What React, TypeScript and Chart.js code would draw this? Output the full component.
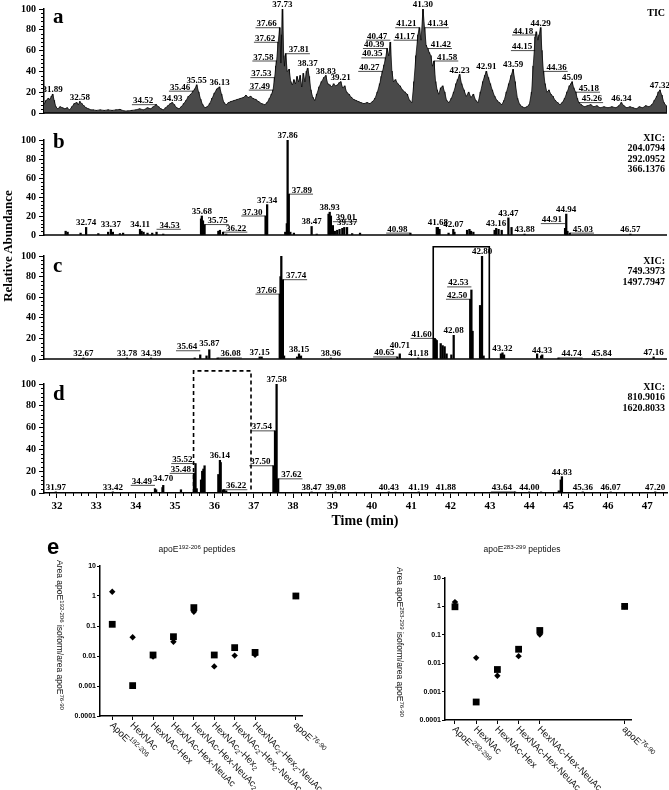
import React, { useEffect, useRef } from 'react';
import { Chart, registerables } from 'chart.js';
Chart.register(...registerables);

const SERIF = '"Liberation Serif", "Times New Roman", serif';
const SANS = '"Liberation Sans", Arial, sans-serif';

type Pt = [number, number];
type Lab = [number, string, number?];

// ---------- chromatogram data (time min, relative abundance %) ----------
const TIME_TICKS = [32, 33, 34, 35, 36, 37, 38, 39, 40, 41, 42, 43, 44, 45, 46, 47];
const TIME_RANGE = [31.67, 47.5];
const ABUND_RANGE = [0, 100];

const TIC: Pt[] = [
  [31.67, 8], [31.72, 12], [31.78, 14], [31.82, 13], [31.86, 16], [31.89, 18], [31.93, 12], [31.97, 6],
  [32.02, 4], [32.08, 6], [32.14, 5], [32.2, 4], [32.26, 5], [32.32, 3], [32.38, 6], [32.44, 9], [32.5, 10],
  [32.54, 8], [32.58, 11], [32.63, 9], [32.68, 7], [32.74, 5], [32.8, 4], [32.86, 3], [32.92, 3], [33.0, 2.5],
  [33.1, 3], [33.2, 2.5], [33.3, 3], [33.4, 2.5], [33.5, 3], [33.6, 3.5], [33.7, 2], [33.8, 2], [33.9, 2.5],
  [34.0, 3], [34.1, 4], [34.2, 3], [34.3, 5], [34.38, 4], [34.45, 6], [34.52, 8], [34.58, 6], [34.64, 4],
  [34.7, 3], [34.76, 5], [34.82, 7], [34.88, 9], [34.93, 10], [34.98, 8], [35.04, 5], [35.1, 4], [35.16, 6],
  [35.22, 9], [35.28, 12], [35.34, 16], [35.4, 18], [35.46, 21], [35.5, 23], [35.55, 27], [35.6, 20],
  [35.65, 13], [35.7, 8], [35.76, 5], [35.82, 6], [35.88, 9], [35.94, 14], [36.0, 19], [36.06, 23],
  [36.1, 24], [36.13, 25], [36.18, 18], [36.24, 10], [36.3, 8], [36.36, 10], [36.42, 11], [36.5, 12],
  [36.58, 13], [36.66, 14], [36.74, 15], [36.8, 17], [36.86, 15], [36.92, 16], [36.98, 14], [37.05, 13],
  [37.12, 11], [37.2, 9], [37.28, 8], [37.34, 10], [37.4, 14], [37.45, 18], [37.49, 22], [37.53, 34],
  [37.56, 45], [37.58, 50], [37.62, 68], [37.66, 82], [37.69, 48], [37.71, 75], [37.73, 100], [37.76, 55],
  [37.78, 45], [37.81, 57], [37.85, 40], [37.9, 42], [37.94, 30], [37.98, 27], [38.02, 32], [38.06, 28],
  [38.1, 35], [38.14, 30], [38.18, 36], [38.22, 25], [38.26, 38], [38.3, 30], [38.34, 40], [38.37, 43],
  [38.41, 35], [38.45, 22], [38.5, 15], [38.55, 12], [38.6, 18], [38.66, 25], [38.72, 30], [38.78, 34],
  [38.83, 36], [38.88, 28], [38.93, 27], [38.98, 25], [39.03, 28], [39.08, 26], [39.13, 27], [39.17, 29],
  [39.21, 30], [39.26, 24], [39.31, 26], [39.36, 20], [39.42, 18], [39.48, 15], [39.54, 13], [39.6, 12],
  [39.66, 11], [39.72, 10], [39.8, 9], [39.88, 10], [39.95, 9], [40.02, 11], [40.08, 14], [40.14, 20],
  [40.2, 28], [40.24, 35], [40.27, 40], [40.31, 46], [40.35, 53], [40.39, 62], [40.43, 55], [40.47, 68],
  [40.51, 40], [40.55, 30], [40.6, 32], [40.66, 28], [40.72, 26], [40.78, 22], [40.84, 20], [40.9, 18],
  [40.96, 12], [41.02, 10], [41.07, 30], [41.12, 55], [41.17, 75], [41.21, 82], [41.25, 70], [41.3, 100],
  [41.34, 82], [41.38, 65], [41.42, 62], [41.46, 58], [41.5, 55], [41.54, 45], [41.58, 50], [41.62, 30],
  [41.66, 22], [41.7, 18], [41.75, 24], [41.8, 26], [41.85, 20], [41.9, 12], [41.96, 10], [42.02, 14],
  [42.08, 20], [42.14, 28], [42.18, 32], [42.23, 37], [42.28, 28], [42.34, 22], [42.4, 16], [42.46, 20],
  [42.52, 15], [42.58, 18], [42.64, 12], [42.7, 10], [42.76, 20], [42.82, 30], [42.87, 36], [42.91, 40],
  [42.96, 34], [43.01, 28], [43.06, 22], [43.12, 16], [43.18, 12], [43.24, 10], [43.3, 8], [43.36, 12],
  [43.42, 20], [43.48, 28], [43.54, 36], [43.59, 42], [43.64, 30], [43.7, 14], [43.76, 8], [43.82, 6],
  [43.88, 5], [43.94, 6], [44.0, 8], [44.06, 20], [44.1, 45], [44.15, 73], [44.18, 78], [44.22, 70],
  [44.25, 75], [44.29, 82], [44.32, 60], [44.36, 40], [44.4, 28], [44.45, 20], [44.5, 22], [44.55, 18],
  [44.6, 16], [44.66, 12], [44.72, 10], [44.78, 8], [44.84, 10], [44.9, 14], [44.96, 20], [45.02, 26],
  [45.06, 28], [45.09, 30], [45.13, 24], [45.18, 20], [45.22, 14], [45.26, 10], [45.32, 8], [45.4, 6],
  [45.48, 7], [45.56, 8], [45.64, 6], [45.72, 7], [45.8, 5], [45.9, 6], [46.0, 5], [46.1, 6], [46.2, 5],
  [46.28, 7], [46.34, 10], [46.4, 7], [46.48, 5], [46.56, 6], [46.64, 5], [46.72, 4], [46.8, 6], [46.88, 5],
  [46.96, 7], [47.04, 6], [47.12, 8], [47.18, 12], [47.24, 16], [47.28, 20], [47.32, 22], [47.37, 17],
  [47.42, 10], [47.48, 7],
];

const XIC_B: Pt[] = [
  [32.22, 4], [32.27, 3], [32.6, 2], [32.74, 8], [33.05, 1.5], [33.3, 3], [33.37, 6], [33.42, 3], [33.6, 1.5],
  [33.68, 2], [34.11, 6], [34.15, 4], [34.2, 3], [34.3, 2], [34.42, 2], [34.53, 3], [34.7, 1], [35.66, 17],
  [35.68, 20], [35.71, 15], [35.75, 11], [36.1, 4], [36.14, 5], [36.22, 3], [36.3, 1], [37.3, 20], [37.34, 32],
  [37.8, 3], [37.84, 12], [37.86, 100], [37.89, 43], [37.93, 3], [38.02, 2], [38.47, 9], [38.6, 1], [38.9, 22],
  [38.93, 24], [38.96, 20], [39.01, 10], [39.06, 4], [39.12, 5], [39.18, 6], [39.25, 7], [39.3, 8], [39.37, 8],
  [39.5, 1.5], [39.7, 2], [40.98, 2], [41.65, 8], [41.68, 8], [41.72, 6], [41.95, 2], [42.07, 6], [42.1, 3],
  [42.42, 5], [42.48, 6], [42.52, 4], [42.58, 3], [43.12, 5], [43.16, 7], [43.22, 6], [43.3, 5], [43.47, 18],
  [43.55, 8], [43.88, 1], [44.91, 7], [44.94, 22], [44.97, 4], [45.03, 2], [46.57, 1],
];

const XIC_C: Pt[] = [
  [32.67, 1], [33.78, 1], [34.39, 1], [35.5, 1], [35.64, 4], [35.8, 3], [35.87, 9], [36.08, 1], [37.15, 2],
  [37.2, 2], [37.66, 63], [37.68, 80], [37.7, 100], [37.74, 77], [37.77, 3], [38.1, 2], [38.15, 5], [38.2, 3],
  [38.96, 1], [40.65, 2], [40.71, 5], [41.18, 1], [41.6, 20], [41.62, 19], [41.65, 18], [41.75, 15],
  [41.8, 13], [41.85, 12], [41.9, 5], [42.02, 4], [42.08, 23], [42.5, 58], [42.53, 67], [42.56, 27],
  [42.75, 52], [42.8, 100], [42.84, 3], [43.28, 5], [43.32, 6], [43.36, 4], [44.2, 5], [44.3, 3], [44.33, 4],
  [44.74, 1], [45.84, 0.5], [47.16, 2],
];

const XIC_D: Pt[] = [
  [31.97, 1], [33.42, 1], [34.49, 4], [34.52, 3], [34.68, 5], [34.7, 7], [35.15, 3], [35.48, 18], [35.52, 27],
  [35.55, 4], [35.66, 12], [35.69, 20], [35.72, 22], [35.75, 25], [36.1, 17], [36.14, 30], [36.16, 28],
  [36.22, 3], [36.25, 3], [36.3, 2], [37.5, 25], [37.54, 57], [37.58, 100], [37.62, 13], [38.47, 1],
  [39.08, 1], [40.43, 1], [41.19, 1], [41.88, 0.5], [43.64, 1], [44.0, 1], [44.3, 1], [44.75, 2], [44.8, 12],
  [44.83, 15], [45.36, 1], [46.07, 1], [47.2, 1],
];

// peak labels: [retention time, side, optional leader level]
const LABELS_A: Lab[] = [
  [31.89, 'c'], [32.58, 'c'], [34.52, 'l'], [34.93, 'c'], [35.46, 'l'], [35.55, 'c'], [36.13, 'c'],
  [37.49, 'l'], [37.53, 'l'], [37.58, 'l'], [37.62, 'l'], [37.66, 'l'], [37.73, 'c'], [37.81, 'r'],
  [38.37, 'c'], [38.83, 'c'], [39.21, 'c'], [40.27, 'l'], [40.35, 'l'], [40.39, 'l'], [40.47, 'l', 70],
  [41.17, 'l', 70], [41.21, 'l', 82], [41.3, 'c'], [41.34, 'r'], [41.42, 'r'], [41.58, 'r'], [42.23, 'c'],
  [42.91, 'c'], [43.59, 'c'], [44.15, 'l', 60], [44.18, 'l', 75], [44.29, 'c'], [44.36, 'r'], [45.09, 'c'],
  [45.18, 'r'], [45.26, 'r'], [46.34, 'c'], [47.32, 'c'],
];
const LABELS_B: Lab[] = [
  [32.74, 'c'], [33.37, 'c'], [34.11, 'c'], [34.53, 'r', 6], [35.68, 'c'], [35.75, 'r'], [36.22, 'r'],
  [37.3, 'l'], [37.34, 'c'], [37.86, 'c'], [37.89, 'r'], [38.47, 'c'], [38.93, 'c'], [39.01, 'r', 14],
  [39.37, 'c'], [40.98, 'l'], [41.68, 'c'], [42.07, 'c'], [43.16, 'c'], [43.47, 'c'], [43.88, 'c'],
  [44.91, 'l', 12], [44.94, 'c'], [45.03, 'r'], [46.57, 'c'],
];
const LABELS_C: Lab[] = [
  [32.67, 'c'], [33.78, 'c'], [34.39, 'c'], [35.64, 'l', 8], [35.87, 'c', 11], [36.08, 'r'], [37.15, 'c'],
  [37.66, 'l'], [37.74, 'r'], [38.15, 'c'], [38.96, 'c'], [40.65, 'l'], [40.71, 'c', 9], [41.18, 'c'],
  [41.6, 'l'], [42.08, 'c'], [42.5, 'l'], [42.53, 'l', 70], [42.8, 'c'], [43.32, 'c'], [44.33, 'c'],
  [44.74, 'r'], [45.84, 'c'], [47.16, 'c'],
];
const LABELS_D: Lab[] = [
  [31.97, 'c'], [33.42, 'c'], [34.49, 'l', 7], [34.7, 'c', 9], [35.48, 'l'], [35.52, 'l'], [36.14, 'c'],
  [36.22, 'r'], [37.5, 'l'], [37.54, 'l'], [37.58, 'c'], [37.62, 'r'], [38.47, 'c'], [39.08, 'c'],
  [40.43, 'c'], [41.19, 'c'], [41.88, 'c'], [43.64, 'l'], [44.0, 'c'], [44.83, 'c'], [45.36, 'c'],
  [46.07, 'c'], [47.2, 'c'],
];

const NOTES_A = ['TIC'];
const NOTES_B = ['XIC:', '204.0794', '292.0952', '366.1376'];
const NOTES_C = ['XIC:', '749.3973', '1497.7947'];
const NOTES_D = ['XIC:', '810.9016', '1620.8033'];

// highlighted windows: [start time, end time, top level]
const BOX_C = [41.56, 42.985, 109];
const BOX_D = [35.47, 36.93, 112];

// ---------- panel e data ----------
const CATS_192 = ['ApoE^{192-206}', 'HexNAc', 'HexNAc-Hex', 'HexNAc-Hex-NeuAc', 'HexNAc-Hex-NeuAc_{2}',
  'HexNAc_{2}-Hex_{2}', 'HexNAc_{2}-Hex_{2}-NeuAc', 'HexNAc_{2}-Hex_{2}-NeuAc_{2}', '', 'apoE^{76-90}'];
const SQUARE_192 = [0.114, 0.00103, 0.0108, 0.044, 0.41, 0.0108, 0.019, 0.0132, null, 1.0];
const DIAMOND_192 = [1.39, 0.042, 0.0095, 0.03, 0.3, 0.0045, 0.0103, 0.011, null, 1.0];

const CATS_283 = ['ApoE^{283-299}', 'HexNAc', 'HexNAc-Hex', 'HexNAc-Hex-NeuAc', 'HexNAc-Hex-NeuAc_{2}',
  '', '', '', 'apoE^{76-90}'];
const SQUARE_283 = [0.97, 0.00043, 0.006, 0.031, 0.142, null, null, null, 1.0];
const DIAMOND_283 = [1.42, 0.0154, 0.0036, 0.0177, 0.103, null, null, null, 1.0];

const LOG_TICKS = [0.0001, 0.001, 0.01, 0.1, 1, 10];

// ---------- helpers ----------
function valueAt(series: Pt[], t: number) {
  let best = series[0];
  for (const p of series) if (Math.abs(p[0] - t) < Math.abs(best[0] - t)) best = p;
  return best[1];
}

function seg(ctx: CanvasRenderingContext2D, x1: number, y1: number, x2: number, y2: number) {
  ctx.beginPath();
  ctx.moveTo(x1, y1);
  ctx.lineTo(x2, y2);
  ctx.stroke();
}

function drawRich(ctx: CanvasRenderingContext2D, text: string, x: number, y: number, size: number,
  weight: string, align: 'left' | 'center') {
  const parts: { t: string; k: number }[] = [];
  const re = /(\^\{[^}]*\}|_\{[^}]*\})/g;
  let last = 0;
  let m: RegExpExecArray | null;
  while ((m = re.exec(text))) {
    if (m.index > last) parts.push({ t: text.slice(last, m.index), k: 0 });
    parts.push({ t: m[0].slice(2, -1), k: m[0][0] === '^' ? 1 : -1 });
    last = m.index + m[0].length;
  }
  if (last < text.length) parts.push({ t: text.slice(last), k: 0 });
  const font = (k: number) => `${weight} ${k ? size * 0.72 : size}px ${SANS}`;
  let total = 0;
  for (const p of parts) { ctx.font = font(p.k); total += ctx.measureText(p.t).width; }
  let cx = align === 'center' ? x - total / 2 : x;
  ctx.textAlign = 'left';
  ctx.textBaseline = 'middle';
  for (const p of parts) {
    ctx.font = font(p.k);
    const dy = p.k === 1 ? -size * 0.36 : p.k === -1 ? size * 0.3 : 0;
    ctx.fillText(p.t, cx, y + dy);
    cx += ctx.measureText(p.t).width;
  }
}

interface PanelDef {
  tag: string; top: number; height: number; plotTop: number; plotBottom: number;
  kind: 'line' | 'bar'; series: Pt[]; labels: Lab[]; notes: string[];
  noteOffset: number; tagOffset: number; showX: boolean; box?: number[]; dashed?: boolean;
}

const PANELS: PanelDef[] = [
  { tag: 'a', top: 0, height: 122, plotTop: 9, plotBottom: 117, kind: 'line', series: TIC, labels: LABELS_A,
    notes: NOTES_A, noteOffset: 4, tagOffset: 14, showX: false },
  { tag: 'b', top: 122, height: 122, plotTop: 140, plotBottom: 239, kind: 'bar', series: XIC_B, labels: LABELS_B,
    notes: NOTES_B, noteOffset: -2, tagOffset: 8, showX: false },
  { tag: 'c', top: 244, height: 124, plotTop: 256, plotBottom: 366, kind: 'bar', series: XIC_C, labels: LABELS_C,
    notes: NOTES_C, noteOffset: 5, tagOffset: 16, showX: false, box: BOX_C, dashed: false },
  { tag: 'd', top: 368, height: 165, plotTop: 384, plotBottom: 493, kind: 'bar', series: XIC_D, labels: LABELS_D,
    notes: NOTES_D, noteOffset: 3, tagOffset: 16, showX: true, box: BOX_D, dashed: true },
];

function Panel({ def }: { def: PanelDef }) {
  const ref = useRef<HTMLCanvasElement>(null);
  useEffect(() => {
    const canvas = ref.current!;
    const xAxisH = def.showX ? 22 : 0;
    const deco = {
      id: 'deco',
      afterDraw(chart: any) {
        const ctx: CanvasRenderingContext2D = chart.ctx;
        const a = chart.chartArea;
        const xs = chart.scales.x;
        const ys = chart.scales.y;
        const y0 = ys.getPixelForValue(0);
        ctx.save();
        ctx.strokeStyle = '#000';
        ctx.fillStyle = '#000';
        if (!def.showX) { ctx.lineWidth = 1.5; seg(ctx, a.left, y0, a.right, y0); }
        ctx.lineWidth = 1;
        for (let v = 4; v < 100; v += 4) {
          if (v % 20) { const y = Math.round(ys.getPixelForValue(v)) + 0.5; seg(ctx, a.left - 3, y, a.left, y); }
        }
        if (def.showX) {
          for (let k = Math.ceil(xs.min * 5); k <= Math.floor(xs.max * 5); k++) {
            if (k % 5) { const x = Math.round(xs.getPixelForValue(k / 5)) + 0.5; seg(ctx, x, a.bottom, x, a.bottom + 3); }
          }
        }
        if (def.box) {
          const [t1, t2, lv] = def.box;
          const x1 = xs.getPixelForValue(t1), x2 = xs.getPixelForValue(t2), yt = ys.getPixelForValue(lv);
          ctx.lineWidth = 1.6;
          ctx.setLineDash(def.dashed ? [4, 3] : []);
          ctx.beginPath();
          ctx.moveTo(x1, y0); ctx.lineTo(x1, yt); ctx.lineTo(x2, yt); ctx.lineTo(x2, y0);
          ctx.stroke();
          ctx.setLineDash([]);
        }
        ctx.font = `bold 9px ${SERIF}`;
        ctx.lineWidth = 0.7;
        ctx.textBaseline = 'alphabetic';
        for (const [t, side, level] of def.labels) {
          const v = level ?? valueAt(def.series, t);
          const px = xs.getPixelForValue(t);
          const py = ys.getPixelForValue(v);
          const txt = t.toFixed(2);
          const w = ctx.measureText(txt).width;
          if (side === 'c') {
            ctx.textAlign = 'center';
            ctx.fillText(txt, px, py - 2);
          } else if (side === 'l') {
            ctx.textAlign = 'right';
            ctx.fillText(txt, px - 3, py - 1.5);
            seg(ctx, px - w - 4, py, px, py);
          } else {
            ctx.textAlign = 'left';
            ctx.fillText(txt, px + 3, py - 1.5);
            seg(ctx, px, py, px + w + 4, py);
          }
        }
        ctx.font = `bold 21px ${SERIF}`;
        ctx.textAlign = 'left';
        ctx.fillText(def.tag, 53, a.top + def.tagOffset);
        ctx.font = `bold 10px ${SERIF}`;
        ctx.textAlign = 'right';
        ctx.textBaseline = 'middle';
        def.notes.forEach((n, i) => ctx.fillText(n, 665, a.top + def.noteOffset + i * 10.5));
        if (def.showX) {
          ctx.font = `bold 14px ${SERIF}`;
          ctx.textAlign = 'center';
          ctx.fillText('Time (min)', 365, a.bottom + 28);
        }
        ctx.restore();
      },
    };
    const pts = def.series.map(([x, y]) => ({ x, y }));
    const datasets: any[] = def.kind === 'line'
      ? [
          { type: 'line', data: pts, borderColor: '#000', borderWidth: 0.7, backgroundColor: '#4a4a4a',
            fill: 'origin', pointRadius: 0, tension: 0 },
          { type: 'bar', data: pts, backgroundColor: '#111', borderWidth: 0, barThickness: 1 },
        ]
      : [{ data: pts, backgroundColor: '#000', borderWidth: 0, barThickness: 1.6 }];
    const chart = new Chart(canvas, {
      type: def.kind,
      data: { datasets },
      options: {
        responsive: false,
        animation: false,
        devicePixelRatio: 1,
        events: [],
        layout: { padding: { left: 8, right: 2, top: def.plotTop - def.top,
          bottom: def.height - (def.plotBottom - def.top) - xAxisH } },
        plugins: { legend: { display: false }, tooltip: { enabled: false } },
        scales: {
          x: {
            type: 'linear', min: TIME_RANGE[0], max: TIME_RANGE[1], offset: false, display: def.showX,
            afterBuildTicks: (s: any) => { s.ticks = TIME_TICKS.map((v) => ({ value: v })); },
            ticks: { font: { family: SERIF, size: 11, weight: 'bold' }, color: '#000', padding: 2, maxRotation: 0,
              autoSkip: false },
            grid: { offset: false, drawOnChartArea: false, drawTicks: true, tickLength: 5, color: '#000' },
            border: { display: true, color: '#000', width: 1.5 },
            afterFit: (s: any) => { s.height = xAxisH; },
          },
          y: {
            type: 'linear', min: ABUND_RANGE[0], max: ABUND_RANGE[1],
            ticks: { stepSize: 20, font: { family: SERIF, size: 10, weight: 'bold' }, color: '#000', padding: 3 },
            grid: { drawOnChartArea: false, drawTicks: true, tickLength: 5, color: '#000' },
            border: { display: true, color: '#000', width: 1.5 },
            afterFit: (s: any) => { s.width = 36; },
          },
        },
      } as any,
      plugins: [deco],
    });
    return () => chart.destroy();
  }, []);
  return <canvas ref={ref} width={669} height={def.height}
    style={{ position: 'absolute', left: 0, top: def.top }} />;
}

interface RatioDef {
  left: number; width: number; pad: { left: number; right: number; top: number; bottom: number };
  cats: string[]; squares: (number | null)[]; diamonds: (number | null)[]; xmin: number; xmax: number;
  title: string; titleX: number; yTitle: string; yTitleX: number; yTitleY: number; showTag: boolean;
}

const RATIOS: RatioDef[] = [
  { left: 0, width: 335, pad: { left: 70, right: 33, top: 26, bottom: 70 }, cats: CATS_192, squares: SQUARE_192,
    diamonds: DIAMOND_192, xmin: -0.6, xmax: 9.3, title: 'apoE^{192-206} peptides', titleX: 197,
    yTitle: 'Area apoE^{192-206} isoform/area apoE^{76-90}', yTitleX: 59, yTitleY: 95, showTag: true },
  { left: 335, width: 334, pad: { left: 80, right: 38, top: 38, bottom: 66 }, cats: CATS_283, squares: SQUARE_283,
    diamonds: DIAMOND_283, xmin: -0.47, xmax: 8.3, title: 'apoE^{283-299} peptides', titleX: 187,
    yTitle: 'Area apoE^{283-299} isoform/area apoE^{76-90}', yTitleX: 64, yTitleY: 102, showTag: false },
];

function RatioChart({ def }: { def: RatioDef }) {
  const ref = useRef<HTMLCanvasElement>(null);
  useEffect(() => {
    const canvas = ref.current!;
    const toPts = (vals: (number | null)[]) =>
      vals.map((v, i) => (v == null ? null : { x: i, y: v })).filter(Boolean);
    const deco = {
      id: 'decoE',
      afterDraw(chart: any) {
        const ctx: CanvasRenderingContext2D = chart.ctx;
        const a = chart.chartArea;
        const xs = chart.scales.x;
        ctx.save();
        ctx.fillStyle = '#111';
        def.cats.forEach((c, i) => {
          if (!c) return;
          const px = xs.getPixelForValue(i);
          ctx.save();
          ctx.translate(px - 1, a.bottom + 8);
          ctx.rotate(Math.PI / 4);
          drawRich(ctx, c, 0, 0, 9.5, 'normal', 'left');
          ctx.restore();
        });
        drawRich(ctx, def.title, def.titleX, 10, 8.5, 'normal', 'center');
        ctx.save();
        ctx.translate(def.yTitleX, def.yTitleY);
        ctx.rotate(Math.PI / 2);
        drawRich(ctx, def.yTitle, 0, 0, 8.5, 'normal', 'center');
        ctx.restore();
        if (def.showTag) {
          ctx.fillStyle = '#000';
          ctx.font = `bold 22px ${SANS}`;
          ctx.textAlign = 'left';
          ctx.textBaseline = 'middle';
          ctx.fillText('e', 47, 8);
        }
        ctx.restore();
      },
    };
    const chart = new Chart(canvas, {
      type: 'scatter',
      data: {
        datasets: [
          { data: toPts(def.squares), pointStyle: 'rect', pointRadius: 4.8, backgroundColor: '#000',
            borderColor: '#000', borderWidth: 0 },
          { data: toPts(def.diamonds), pointStyle: 'rectRot', pointRadius: 3.2, backgroundColor: '#000',
            borderColor: '#000', borderWidth: 0 },
        ],
      },
      options: {
        responsive: false,
        animation: false,
        devicePixelRatio: 1,
        events: [],
        layout: { padding: def.pad },
        plugins: { legend: { display: false }, tooltip: { enabled: false } },
        scales: {
          x: {
            type: 'linear', min: def.xmin, max: def.xmax,
            afterBuildTicks: (s: any) => {
              s.ticks = def.cats.map((c, i) => (c ? { value: i } : null)).filter(Boolean);
            },
            ticks: { display: false },
            grid: { drawOnChartArea: false, drawTicks: true, tickLength: 4, color: '#000' },
            border: { display: true, color: '#000', width: 1.5 },
            afterFit: (s: any) => { s.height = 4; },
          },
          y: {
            type: 'logarithmic', min: LOG_TICKS[0], max: LOG_TICKS[LOG_TICKS.length - 1],
            afterBuildTicks: (s: any) => { s.ticks = LOG_TICKS.map((v) => ({ value: v })); },
            ticks: { font: { family: SANS, size: 7, weight: 'bold' }, color: '#000', padding: 1,
              callback: (v: any) => String(v) },
            grid: { drawOnChartArea: false, drawTicks: true, tickLength: 3, color: '#000' },
            border: { display: true, color: '#000', width: 1.5 },
            afterFit: (s: any) => { s.width = 30; },
          },
        },
      } as any,
      plugins: [deco],
    });
    return () => chart.destroy();
  }, []);
  return <canvas ref={ref} width={def.width} height={250}
    style={{ position: 'absolute', left: def.left, top: 540 }} />;
}

export default function App() {
  return (
    <div style={{ position: 'absolute', left: 0, top: 0, width: 669, height: 790, overflow: 'hidden',
      background: '#fff' }}>
      {PANELS.map((p) => <Panel key={p.tag} def={p} />)}
      <div style={{ position: 'absolute', left: -62, top: 238, width: 140, height: 16, textAlign: 'center',
        transform: 'rotate(-90deg)', font: `bold 13px ${SERIF}`, lineHeight: '16px', color: '#000' }}>
        Relative Abundance
      </div>
      {RATIOS.map((r, i) => <RatioChart key={i} def={r} />)}
    </div>
  );
}
